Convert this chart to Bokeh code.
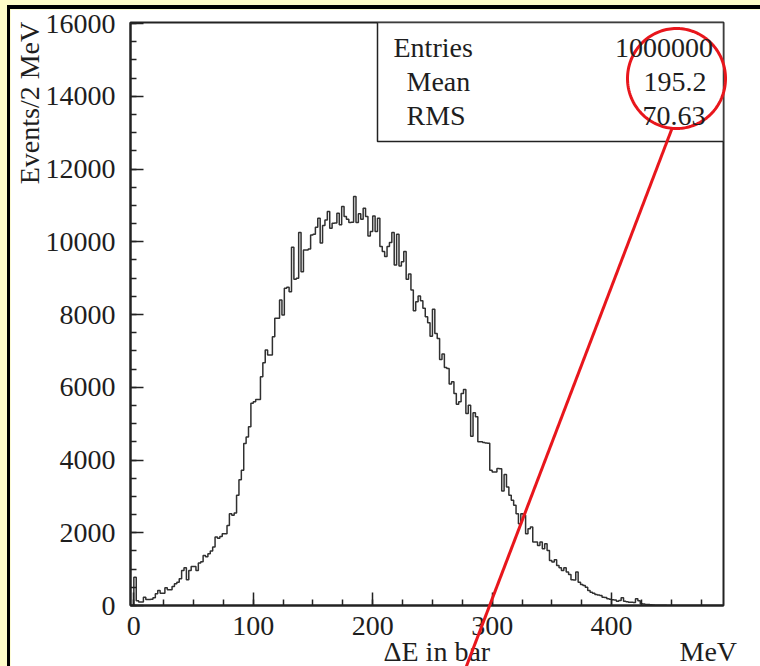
import numpy as np
from bokeh.plotting import figure
from bokeh.models import FixedTicker, Label, BoxAnnotation, Range1d
from bokeh.core.properties import value
from bokeh.embed import file_html
from bokeh.resources import INLINE

# ---------------- data ----------------
bin_width = 2.0  # MeV
counts = [
    780, 130, 95, 95, 230, 165, 165, 170, 211, 321,
    413, 340, 340, 486, 431, 431, 523, 600, 642, 734,
    964, 1037, 707, 964, 1074, 1074, 964, 1166, 1200, 1377,
    1340, 1423, 1500, 1606, 1882, 1850, 1900, 1974, 1974, 2203,
    2524, 2480, 2543, 3029, 3461, 3718, 4452, 4636, 4912, 5560,
    5600, 5664, 5664, 6288, 6674, 7023, 6885, 6885, 7390, 7895,
    7895, 8400, 7987, 8721, 8750, 8629, 9850, 8970, 9000, 10254,
    9180, 9777, 9777, 9800, 10190, 10210, 10401, 10649, 9970, 10450,
    10600, 10833, 10374, 10511, 10520, 10787, 10466, 10971, 10695, 10622,
    10530, 10540, 11246, 10530, 10769, 10622, 10924, 10695, 10163, 10282,
    10713, 10282, 10649, 9868, 9731, 9593, 9868, 9979, 10254, 9364,
    10209, 9336, 9455, 9731, 8970, 9116, 8675, 8106, 8354, 8510,
    8381, 8170, 7941, 7776, 7400, 8143, 7482, 7344, 6766, 6913,
    6545, 6518, 6087, 6151, 5829, 5536, 5600, 5829, 5940, 5279,
    5508, 4654, 5297, 5187, 4499, 4499, 4480, 4471, 4460, 3718,
    3672, 3672, 3764, 3760, 3149, 3600, 3259, 3029, 2892, 2754,
    2524, 2249, 2524, 2479, 1974, 2111, 2157, 1744, 1744, 1652,
    1744, 1560, 1698, 1515, 1239, 1193, 1258, 1102, 1037, 964,
    1037, 918, 854, 707, 700, 918, 642, 578, 551, 505,
    413, 367, 340, 303, 290, 275, 230, 220, 184, 170,
    156, 150, 119, 140, 211, 119, 100, 92, 88, 85,
    184, 130, 46, 40, 28, 25, 22, 15, 10, 8,
    6, 5, 4, 3, 2, 2, 1, 1, 0, 0,
    0, 0, 0, 0, 0, 0, 0, 0, 0, 0,
    0, 0, 0, 0, 0, 0, 0,
]
x_major = [0, 100, 200, 300, 400]
x_tick_labels = ["0", "100", "200", "300", "400"]
x_minor = list(range(0, 476, 25))
y_major = [0, 2000, 4000, 6000, 8000, 10000, 12000, 14000, 16000]
y_tick_labels = ["0", "2000", "4000", "6000", "8000", "10000", "12000", "14000", "16000"]
y_minor = list(range(0, 16001, 500))
stats_names = ["Entries", "Mean", "RMS"]
stats_values = ["1000000", "195.2", "70.63"]
x_title = "ΔE in bar"
x_unit = "MeV"
y_title = "Events/2 MeV"

# ---------------- layout ----------------
CX, CY = 10, 9                        # canvas offset on the page
XR = (-2.8, 493.7)
YR = (0.0, 16030.0)
FL, FR, FT, FB = 130, 723, 22, 605   # frame edges in page pixels
W, H = 760 - CX, 666 - CY
FONT = "Liberation Serif"
TXT = "#1e1e1e"
RED = "#e8161c"

def X(px):
    return XR[0] + (np.asarray(px, dtype=float) - FL) * (XR[1] - XR[0]) / (FR - FL)

def Y(py):
    return YR[0] + (FB - np.asarray(py, dtype=float)) * (YR[1] - YR[0]) / (FB - FT)

p = figure(width=W, height=H, x_range=Range1d(*XR), y_range=Range1d(*YR),
           output_backend="svg", toolbar_location=None,
           min_border_left=FL - CX, min_border_right=760 - FR,
           min_border_top=FT - CY, min_border_bottom=666 - FB)
p.background_fill_color = "white"
p.border_fill_color = "white"
p.outline_line_color = "#222222"
p.outline_line_width = 2
p.xgrid.visible = False
p.ygrid.visible = False

# histogram outline
edges = np.arange(len(counts) + 1) * bin_width
hx = [edges[0]]
hy = [0]
for i, c in enumerate(counts):
    hx += [edges[i], edges[i + 1]]
    hy += [c, c]
p.line(hx, hy, line_color="#303030", line_width=1.5)

for ax, maj, mnr, labs, stand in ((p.xaxis, x_major, x_minor, x_tick_labels, 11),
                                  (p.yaxis, y_major, y_minor, y_tick_labels, 15)):
    ax.ticker = FixedTicker(ticks=maj, minor_ticks=mnr)
    ax.major_label_overrides = {v: s for v, s in zip(maj, labs)}
    ax.major_tick_in = 13
    ax.major_tick_out = 0
    ax.minor_tick_in = 6
    ax.minor_tick_out = 0
    ax.axis_line_width = 2
    ax.axis_line_color = "#222222"
    ax.major_tick_line_color = "#222222"
    ax.minor_tick_line_color = "#222222"
    ax.major_tick_line_width = 1.5
    ax.minor_tick_line_width = 1.5
    ax.major_label_text_font = FONT
    ax.major_label_text_font_size = "28px"
    ax.major_label_text_color = TXT
    ax.major_label_standoff = stand

def label(px, py, text, align="left", baseline="alphabetic", angle=0.0):
    p.add_layout(Label(x=float(X(px)), y=float(Y(py)), text=text, text_align=align, text_baseline=baseline,
                       angle=angle, text_font=FONT, text_font_size="28px", text_color=TXT, level="overlay"))

# stats box
p.add_layout(BoxAnnotation(left=float(X(377)), right=float(X(723)), top=float(Y(22)), bottom=float(Y(141)),
                           fill_color="white", fill_alpha=1.0, line_color="#222222", line_alpha=1.0,
                           line_width=1.5))
name_pos = [(393, 47), (406, 81), (406, 115)]
val_pos = [(712.5, 47), (706, 81), (705, 115)]
for (nx, ny), name in zip(name_pos, stats_names):
    label(nx, ny, name, "left")
for (vx, vy), val in zip(val_pos, stats_values):
    label(vx, vy, val, "right")

# axis titles (text glyphs on the overlay level so they may sit outside the frame)
p.text(x=X([383, 679]), y=Y([651, 651]), text=[x_title, x_unit], text_align="left", text_baseline="alphabetic",
       text_font=value(FONT), text_font_size=value("28px"), text_color=TXT, level="overlay")
p.text(x=X([28.5]), y=Y([102.5]), text=[y_title], angle=np.pi / 2, text_align="center", text_baseline="middle",
       text_font=value(FONT), text_font_size=value("28px"), text_color=TXT, level="overlay")

# red highlight
th = np.linspace(0, 2 * np.pi, 160)
p.line(X(676 + 49 * np.cos(th)), Y(78 + 50 * np.sin(th)), line_color=RED, line_width=3, level="overlay")
p.line(X([671.5, 464.3]), Y([128, 670]), line_color=RED, line_width=3, level="overlay")

css = ("<style>html,body{margin:0;padding:0;overflow:hidden;}"
       "body{padding:%dpx 0 0 %dpx;"
       "background:linear-gradient(#000,#000) 7px 5px/3px 700px no-repeat,"
       "linear-gradient(#000,#000) 7px 5px/800px 4px no-repeat,#fffcc8;}</style>" % (CY, CX))
html = file_html(p, INLINE)
html = html.replace("</head>", css + "</head>", 1)
open("out.html", "w").write(html)
